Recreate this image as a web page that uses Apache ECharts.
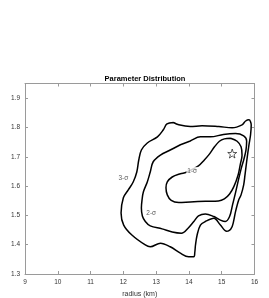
<!DOCTYPE html>
<html>
<head>
<meta charset="utf-8">
<script src="https://cdn.jsdelivr.net/npm/echarts@6/dist/echarts.min.js"></script>
<style>html,body{margin:0;padding:0;background:#fff}#c{width:269px;height:298px}</style>
</head>
<body>
<div id="c"></div>
<script>
// contour levels (radius km, mass Msun)
const contour3 = [[13.53,1.817],[13.69,1.809],[14.04,1.803],[14.40,1.806],[14.91,1.803],[15.32,1.799],[15.62,1.809],[15.73,1.822],[15.83,1.826],[15.90,1.808],[15.88,1.775],[15.83,1.740],[15.76,1.683],[15.71,1.638],[15.67,1.604],[15.59,1.570],[15.52,1.553],[15.42,1.512],[15.32,1.462],[15.21,1.447],[15.15,1.446],[14.96,1.467],[14.76,1.490],[14.50,1.479],[14.35,1.467],[14.25,1.433],[14.20,1.399],[14.18,1.375],[14.15,1.359],[13.99,1.359],[13.74,1.371],[13.43,1.393],[13.13,1.405],[12.82,1.393],[12.67,1.399],[12.26,1.433],[12.01,1.467],[11.93,1.508],[12.00,1.560],[12.15,1.587],[12.30,1.614],[12.41,1.648],[12.47,1.689],[12.55,1.723],[12.73,1.747],[13.04,1.768],[13.22,1.792],[13.33,1.812],[13.53,1.817]];
const contour2 = [[13.74,1.741],[13.43,1.723],[13.13,1.706],[12.91,1.683],[12.82,1.648],[12.73,1.614],[12.61,1.580],[12.57,1.553],[12.55,1.525],[12.58,1.498],[12.67,1.479],[12.82,1.464],[13.18,1.454],[13.49,1.443],[13.77,1.439],[13.98,1.457],[14.15,1.479],[14.29,1.498],[14.50,1.505],[14.76,1.496],[14.96,1.484],[15.11,1.479],[15.24,1.496],[15.33,1.536],[15.42,1.577],[15.51,1.621],[15.60,1.662],[15.67,1.689],[15.74,1.723],[15.76,1.754],[15.67,1.771],[15.42,1.779],[15.05,1.776],[14.66,1.768],[14.35,1.768],[14.04,1.754],[13.74,1.741]];
const contour1 = [[15.27,1.763],[15.47,1.753],[15.59,1.734],[15.62,1.705],[15.57,1.676],[15.50,1.638],[15.37,1.598],[15.24,1.573],[15.08,1.556],[14.90,1.549],[14.50,1.548],[14.04,1.546],[13.69,1.544],[13.46,1.551],[13.34,1.570],[13.30,1.594],[13.34,1.614],[13.49,1.631],[13.74,1.642],[13.92,1.647],[14.29,1.669],[14.47,1.689],[14.63,1.710],[14.78,1.734],[14.93,1.753],[15.08,1.761],[15.27,1.763]];
const bestFit = [[15.32,1.711]];
const levelLabels = ['1-σ','2-σ','3-σ'];
const labelPos = [[14.10,1.650],[12.85,1.508],[12.00,1.628]];
const xTicks = [9,10,11,12,13,14,15,16];
const yTicks = [1.3,1.4,1.5,1.6,1.7,1.8,1.9];

const font = 'Liberation Sans, Arial, sans-serif';
const axisCol = '#9a9a9a';
const chart = echarts.init(document.getElementById('c'), null, {renderer:'canvas'});
const starPath = 'path://M50,0 L61.8,35.1 L97.6,34.5 L69.1,56.9 L79.4,90.5 L50,70 L20.6,90.5 L30.9,56.9 L2.4,34.5 L38.2,35.1 Z';

function lineSeries(d){
  return {type:'line', data:d, smooth:0.35, symbol:'none', xAxisIndex:0, yAxisIndex:0,
    lineStyle:{color:'#000', width:1.5}, silent:true, animation:false};
}
const baseAxis = {
  axisLine:{show:true, lineStyle:{color:axisCol, width:1}},
  axisTick:{show:true, inside:true, length:3, lineStyle:{color:axisCol}},
  splitLine:{show:false}
};
chart.setOption({
  animation:false,
  title:{text:'Parameter Distribution', left:140, top:70, textAlign:'center',
    textStyle:{fontFamily:font, fontSize:7.5, fontWeight:'bold', color:'#000'}},
  grid:{left:25, right:14.5, top:83.5, bottom:24, containLabel:false, outerBoundsMode:'none'},
  xAxis:[
    Object.assign({type:'value', min:xTicks[0], max:xTicks[xTicks.length-1], interval:1, position:'bottom',
      name:'radius (km)', nameLocation:'middle', nameGap:14,
      nameTextStyle:{fontFamily:font, fontSize:7, color:'#333'},
      axisLabel:{fontFamily:font, fontSize:6.5, color:'#333', margin:5}}, baseAxis),
    Object.assign({type:'value', min:xTicks[0], max:xTicks[xTicks.length-1], interval:1, position:'top',
      axisLabel:{show:false}}, baseAxis)
  ],
  yAxis:[
    Object.assign({type:'value', min:yTicks[0], max:1.95, interval:0.1, position:'left',
      name:'{a|mass (M}{s|sun}{a|)}', nameLocation:'middle', nameGap:16,
      nameTextStyle:{fontFamily:font, color:'#333', rich:{
        a:{fontFamily:font, fontSize:6.5, color:'#333', lineHeight:12, verticalAlign:'middle'},
        s:{fontFamily:font, fontSize:4.5, color:'#333', lineHeight:12, verticalAlign:'bottom', padding:[4,0,0,1]}}},
      axisLabel:{fontFamily:font, fontSize:6.5, color:'#333', margin:5, showMaxLabel:false,
        formatter:function(v){return yTicks.some(t=>Math.abs(t-v)<1e-6)?v.toFixed(1):'';}}}, baseAxis),
    Object.assign({type:'value', min:yTicks[0], max:1.95, interval:0.1, position:'right',
      axisLabel:{show:false}}, baseAxis)
  ],
  series:[
    lineSeries(contour3), lineSeries(contour2), lineSeries(contour1),
    {type:'scatter', data:bestFit, symbol:starPath, symbolSize:9, xAxisIndex:0, yAxisIndex:0,
      itemStyle:{color:'rgba(0,0,0,0)', borderColor:'#000', borderWidth:0.8}, silent:true},
    {type:'scatter', xAxisIndex:0, yAxisIndex:0, symbolSize:0, silent:true, z:10,
      data:labelPos.map((p,i)=>({value:p, name:levelLabels[i]})),
      label:{show:true, position:'inside', formatter:'{b}', fontFamily:font, fontSize:6.5, color:'#333',
        backgroundColor:'#fff', padding:[1,1]}}
  ]
});
</script>
</body>
</html>
